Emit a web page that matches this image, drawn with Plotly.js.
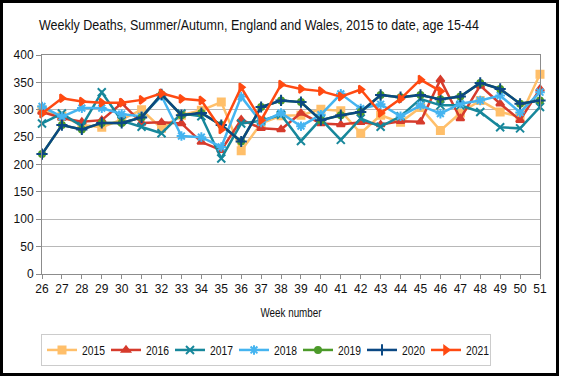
<!DOCTYPE html>
<html>
<head>
<meta charset="utf-8">
<script src="https://cdn.plot.ly/plotly-3.0.1.min.js"></script>
<style>
html,body{margin:0;padding:0;background:#fff;}
#wrap{position:relative;width:561px;height:377px;}
#chart{width:561px;height:377px;}
#frame{position:absolute;left:0;top:0;width:559px;height:376px;box-sizing:border-box;border:3px solid #000;pointer-events:none;}
</style>
</head>
<body>
<div id="wrap"><div id="chart"></div><div id="frame"></div></div>
<script>
const weeks = [26,27,28,29,30,31,32,33,34,35,36,37,38,39,40,41,42,43,44,45,46,47,48,49,50,51];
const seriesNames = ["2015","2016","2017","2018","2019","2020","2021"];
const y2015 = [300,288,272,268,282,300,266,290,299,314,225,275,289,290,301,298,257,290,277,304,262,294,317,296,287,365];
const y2016 = [296,285,278,281,312,276,277,275,241,226,282,266,264,294,275,273,277,273,279,278,355,284,344,311,281,338];
const y2017 = [275,293,270,332,280,269,257,293,288,211,275,280,291,243,283,245,284,269,288,320,308,308,296,268,266,305];
const y2018 = [306,287,303,303,292,288,325,252,250,232,324,277,294,270,291,329,302,310,288,308,293,311,317,326,295,332];
const y2019 = [219,272,264,276,276,286,328,290,294,272,242,305,317,314,281,290,296,327,323,327,319,324,349,338,311,317];
const y2020 = [219,272,264,276,276,286,328,290,294,272,242,305,317,314,281,290,296,327,323,327,319,324,349,338,311,317];
const y2021 = [293,321,315,313,313,318,330,320,317,264,341,281,346,338,334,324,337,294,320,355,334,null,null,null,null,null];

const values = [y2015,y2016,y2017,y2018,y2019,y2020,y2021];
const colors = ["#FFBF6A","#D63B2C","#17879B","#45B4F0","#4C9A2A","#0B4883","#FF4A12"];
const symbols = ["square","triangle-up","x-thin-open","asterisk-open","circle","cross-thin-open","triangle-right"];
const msizes = [7,7,8,8,6,8,7];

const traces = values.map((v,i)=>({
  x: weeks, y: v, name: seriesNames[i], type:'scatter', mode:'lines+markers',
  cliponaxis:false,
  line:{color:colors[i], width:2.5},
  marker:{symbol:symbols[i], size:msizes[i], color:colors[i], line:{color:colors[i], width:2}}
}));

const L=42, R=540, T=55, B=275, W=561, H=377;
const pw=R-L, ph=B-T;
function px(x){return (x-L)/pw;}
function py(y){return (B-y)/ph;}

const titleText = 'Weekly Deaths, Summer/Autumn, England and Wales, 2015 to date, age 15-44';
const sans = '"Liberation Sans", Arial, sans-serif';

const layout = {
  width:W, height:H,
  margin:{l:L, r:W-R, t:T, b:H-B, pad:0},
  paper_bgcolor:'#fff', plot_bgcolor:'#fff',
  font:{family:sans, size:12, color:'#111'},
  title:{text:titleText,
    font:{family:sans, size:14.5, color:'#111'},
    x:259/W, xanchor:'center', xref:'container', y:1-25/H, yanchor:'middle', yref:'container'},
  xaxis:{range:[26,51], tickmode:'array', tickvals:weeks, ticktext:weeks.map(String),
    showgrid:false, zeroline:false, showline:true, linecolor:'#8c8c8c', linewidth:1, mirror:true,
    ticks:'outside', ticklen:4, tickcolor:'#8c8c8c', tickfont:{size:12},
    title:{text:'Week number', font:{family:sans, size:13, color:'#111'}, standoff:12}},
  yaxis:{range:[0,400], dtick:50, showgrid:true, gridcolor:'#b8b8b8', gridwidth:1, zeroline:false,
    showline:true, linecolor:'#8c8c8c', linewidth:1, mirror:true,
    ticks:'outside', ticklen:5, tickcolor:'#8c8c8c', tickfont:{size:12}},
  showlegend:true,
  legend:{orientation:'h', x:px(41), xanchor:'left', y:py(334), yanchor:'top',
    bordercolor:'#cccccc', borderwidth:1, bgcolor:'#fff',
    font:{family:sans, size:13, color:'#111'}, entrywidth:19, entrywidthmode:'pixels', itemwidth:30,
    traceorder:'normal'}
};

const gd = document.getElementById('chart');
function condense(sel, len){
  gd.querySelectorAll(sel).forEach(e=>{
    e.setAttribute('textLength', len);
    e.setAttribute('lengthAdjust', 'spacingAndGlyphs');
  });
}
Plotly.newPlot(gd, traces, layout, {staticPlot:true, displayModeBar:false}).then(()=>{
  condense('.gtitle', 440);
  condense('.xtitle', 61);
  condense('.legendtext', 23);
});
</script>
</body>
</html>
